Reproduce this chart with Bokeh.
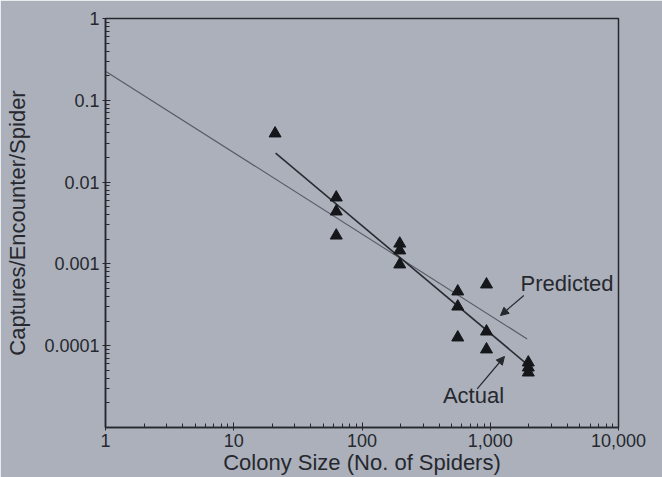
from bokeh.plotting import figure
from bokeh.models import FixedTicker, Arrow, NormalHead, Label, ColumnDataSource
from bokeh.embed import file_html
from bokeh.resources import INLINE

# ---- data ----
colony_size = [21, 63, 63, 63, 197, 197, 197, 558, 558, 558, 935, 935, 935, 1980, 1980, 1980]
captures_per_spider = [0.0393, 0.00648, 0.00437, 0.00222, 0.00177, 0.00146, 0.000984,
                       0.00046, 0.000301, 0.000126, 0.00056, 0.000149, 0.00009,
                       0.0000623, 0.0000541, 0.000047]

predicted_x = [1, 1940]
predicted_y = [0.227, 0.000121]
actual_x = [21.2, 2124]
actual_y = [0.0226, 0.0000526]

x_tick_values = [1, 10, 100, 1000, 10000]
x_tick_labels = ["1", "10", "100", "1,000", "10,000"]
y_tick_values = [1, 0.1, 0.01, 0.001, 0.0001]
y_tick_labels = ["1", "0.1", "0.01", "0.001", "0.0001"]

# annotation anchors (data coordinates)
pred_arrow_start = (1827, 0.000411)
pred_arrow_end = (1202, 0.000234)
act_arrow_start = (791, 0.0000297)
act_arrow_end = (1291, 0.0000738)
pred_label_pos = (1722, 0.000576)
act_label_pos = (740, 0.0000246)

BG = "#abb0bb"
INK = "#26282e"
FONT = "Liberation Sans"

p = figure(x_axis_type="log", y_axis_type="log",
           x_range=(1, 10000), y_range=(1e-5, 1),
           width=662, height=477,
           min_border_left=105, min_border_right=44,
           min_border_top=18, min_border_bottom=50,
           output_backend="svg", toolbar_location=None)

p.background_fill_color = BG
p.border_fill_color = BG
p.outline_line_color = INK
p.outline_line_width = 1.5
p.grid.visible = False

x_minor = [m * 10 ** k for k in range(4) for m in range(2, 10)]
y_minor = [m * 10.0 ** k for k in range(-5, 0) for m in range(2, 10)]
p.xaxis.ticker = FixedTicker(ticks=x_tick_values, minor_ticks=x_minor)
p.yaxis.ticker = FixedTicker(ticks=y_tick_values, minor_ticks=y_minor)
p.xaxis.major_label_overrides = dict(zip(x_tick_values, x_tick_labels))
p.yaxis.major_label_overrides = dict(zip(y_tick_values, y_tick_labels))

for ax in (p.xaxis, p.yaxis):
    ax.axis_line_color = INK
    ax.axis_line_width = 1.5
    ax.major_tick_line_color = INK
    ax.minor_tick_line_color = INK
    ax.major_tick_in = 5
    ax.major_tick_out = 3
    ax.minor_tick_in = 4
    ax.minor_tick_out = 0
    ax.major_label_text_font = FONT
    ax.major_label_text_font_size = "18px"
    ax.major_label_text_color = INK
    ax.axis_label_text_font = FONT
    ax.axis_label_text_font_size = "22px"
    ax.axis_label_text_font_style = "normal"
    ax.axis_label_text_color = INK

p.xaxis.axis_label = "Colony Size (No. of Spiders)"
p.yaxis.axis_label = "Captures/Encounter/Spider"
p.xaxis.major_label_standoff = 3
p.xaxis.axis_label_standoff = 0
p.yaxis.major_label_standoff = 3
p.yaxis.axis_label_standoff = 11

# fitted lines
p.line(predicted_x, predicted_y, line_color="#575b63", line_width=1.1)
p.line(actual_x, actual_y, line_color="#2a2c32", line_width=1.6)

# data points
src = ColumnDataSource(dict(x=colony_size, y=captures_per_spider))
p.scatter("x", "y", source=src, marker="triangle", size=12,
          fill_color="#15161a", line_color="#15161a")

# annotations
p.add_layout(Arrow(x_start=pred_arrow_start[0], y_start=pred_arrow_start[1],
                   x_end=pred_arrow_end[0], y_end=pred_arrow_end[1],
                   line_color=INK, line_width=1.2,
                   end=NormalHead(size=8, fill_color=INK, line_color=INK)))
p.add_layout(Arrow(x_start=act_arrow_start[0], y_start=act_arrow_start[1],
                   x_end=act_arrow_end[0], y_end=act_arrow_end[1],
                   line_color=INK, line_width=1.2,
                   end=NormalHead(size=8, fill_color=INK, line_color=INK)))

p.add_layout(Label(x=pred_label_pos[0], y=pred_label_pos[1], text="Predicted",
                   text_font=FONT, text_font_size="22px", text_color=INK,
                   text_align="left", text_baseline="middle"))
p.add_layout(Label(x=act_label_pos[0], y=act_label_pos[1], text="Actual",
                   text_font=FONT, text_font_size="22px", text_color=INK,
                   text_align="center", text_baseline="middle"))
p.add_layout(Label(x=-60, y=-36, x_units="screen", y_units="screen", text="(c)",
                   text_font=FONT, text_font_size="20px", text_color=INK,
                   text_align="center", text_baseline="middle"))

open("out.html", "w").write(file_html(p, INLINE))
